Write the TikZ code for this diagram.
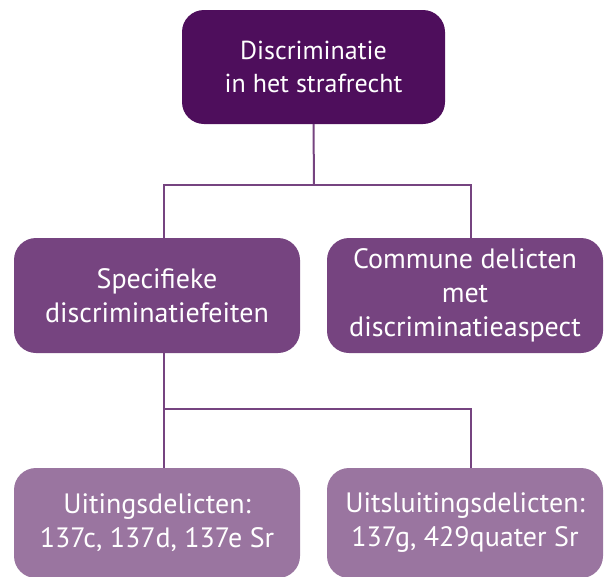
\documentclass[tikz,border=0pt]{standalone}
\usepackage{fontspec}
\setsansfont{PT Sans}
\definecolor{paars1}{HTML}{4E0E5C}
\definecolor{paars2}{HTML}{764480}
\definecolor{paars3}{HTML}{9A75A0}
\begin{document}
\begin{tikzpicture}[x=1pt,y=-1pt,
	box/.style={rounded corners=22pt,text=white,align=center,inner sep=0pt,
		font=\sffamily\fontsize{28}{34}\selectfont},
	lijn/.style={draw=paars2,line width=2pt}]
\useasboundingbox (0,0) rectangle (605,576);
\clip (0,0) rectangle (605,576);
\node[box,fill=paars1,minimum width=263pt,minimum height=114pt,
	font=\sffamily\fontsize{26}{33}\selectfont] (top) at (313.5,67)
	{Discriminatie\\in het strafrecht};
\node[box,fill=paars2,minimum width=286pt,minimum height=115pt] (spec) at (157,295.5)
	{Specifieke\\discriminatiefeiten};
\node[box,fill=paars2,minimum width=276pt,minimum height=115pt] (comm) at (465,295.5)
	{Commune delicten\\met\\discriminatieaspect};
\node[box,fill=paars3,minimum width=286pt,minimum height=110pt] (uit) at (157,523)
	{Uitingsdelicten:\\137c, 137d, 137e Sr};
\node[box,fill=paars3,minimum width=276pt,minimum height=110pt] (sluit) at (465,523)
	{Uitsluitingsdelicten:\\137g, 429quater Sr};
\coordinate (j1) at (314,185);
\coordinate (j2) at (164,409);
\draw[lijn] (top.south) -- (j1);
\draw[lijn] ([xshift=7pt]spec.north) |- (j1) -| ([xshift=6pt]comm.north);
\draw[lijn] ([xshift=7pt]spec.south) -- (j2) -| ([xshift=6pt]sluit.north);
\draw[lijn] (j2) -- ([xshift=7pt]uit.north);
\end{tikzpicture}
\end{document}
